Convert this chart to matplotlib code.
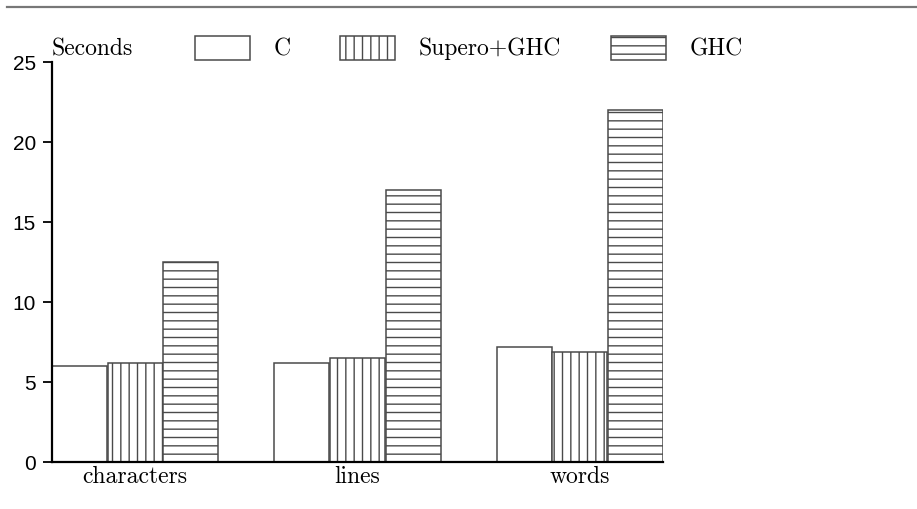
import numpy as np
import matplotlib
matplotlib.use("Agg")
import matplotlib.pyplot as plt
from matplotlib.patches import Patch
from matplotlib.lines import Line2D

categories = ["characters", "lines", "words"]
series_names = ["C", "Supero+GHC", "GHC"]
c_times = [6.0, 6.2, 7.2]
supero_times = [6.2, 6.5, 6.9]
ghc_times = [12.5, 17.0, 22.0]
hatches = ["", "||", "--"]
yticks = [0, 5, 10, 15, 20, 25]

plt.rcParams["hatch.linewidth"] = 1.0
serif = "cmr10"
edge = "#4a4a4a"

fig = plt.figure(figsize=(9.17, 5.09), dpi=100)
ax = fig.add_axes([52 / 917, 1 - 462 / 509, (663 - 52) / 917, 400 / 509])

x = np.arange(len(categories))
width = 0.247
offsets = [-0.25, 0.0, 0.25]
for vals, off, h in zip([c_times, supero_times, ghc_times], offsets, hatches):
    ax.bar(x + off, vals, width, color="white", edgecolor=edge,
           linewidth=1.1, hatch=h)

ax.set_xlim(-0.3735, 2.3735)
ax.set_ylim(0, 25)
ax.set_yticks(yticks)
ax.set_yticklabels([str(t) for t in yticks], fontfamily="Liberation Sans", fontsize=15)
ax.set_xticks(x)
ax.set_xticklabels(categories, fontfamily=serif, fontsize=17)
ax.tick_params(axis="x", length=0, pad=3)
ax.tick_params(axis="y", length=6.5, width=1.3, pad=5)

for s in ["top", "right"]:
    ax.spines[s].set_visible(False)
for s in ["left", "bottom"]:
    ax.spines[s].set_linewidth(1.6)

# legend row across the top
handles = [Patch(facecolor="white", edgecolor=edge, linewidth=1.1, hatch=h)
           for h in hatches]
leg = fig.legend(handles, series_names, loc="center left",
                 bbox_to_anchor=(195 / 917, 1 - 48 / 509), ncol=3,
                 frameon=False, borderpad=0, borderaxespad=0,
                 handlelength=2.33, handleheight=1.19,
                 handletextpad=1.0, columnspacing=2.1,
                 prop={"family": serif, "size": 17})

fig.text(52 / 917, 1 - 56 / 509, "Seconds", fontfamily=serif, fontsize=17,
         ha="left", va="baseline")

# grey rule at the very top
fig.add_artist(Line2D([7 / 917, 1.0], [1 - 7 / 509, 1 - 7 / 509],
                      color="#777777", linewidth=1.6))

fig.savefig("out.png", dpi=100)
